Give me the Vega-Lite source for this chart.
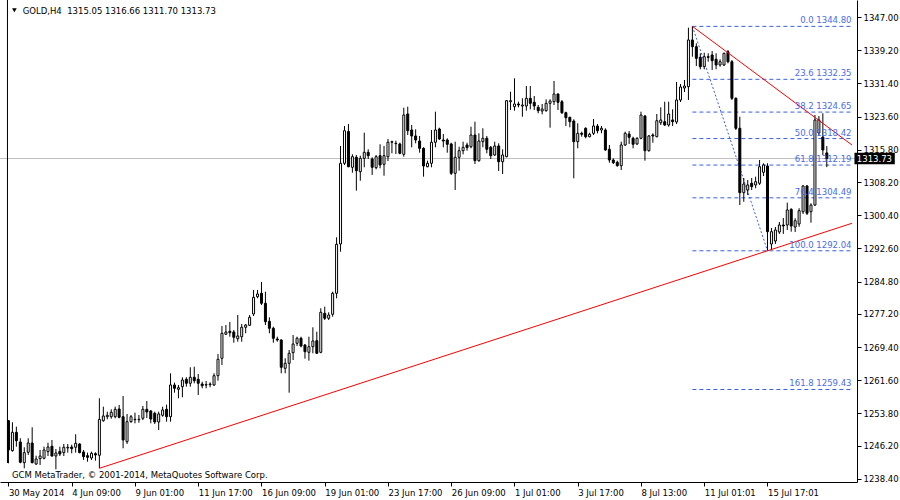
{
"$schema":"https://vega.github.io/schema/vega-lite/v6.json",
"width":857,"height":482,
"autosize":{"type":"none"},
"padding":{"left":0,"top":0,"right":43,"bottom":18},
"background":"white",
"datasets":{
"candles":[
{"i":0,"o":1252.09,"h":1252.25,"l":1242.08,"c":1245.21},
{"i":1,"o":1245.05,"h":1251.72,"l":1244.81,"c":1249.36},
{"i":2,"o":1249.36,"h":1250.68,"l":1245.98,"c":1247.39},
{"i":3,"o":1247.09,"h":1247.96,"l":1242.08,"c":1242.32},
{"i":4,"o":1242.22,"h":1245.84,"l":1240.90,"c":1244.58},
{"i":5,"o":1244.67,"h":1247.96,"l":1244.03,"c":1246.85},
{"i":6,"o":1246.85,"h":1250.54,"l":1242.08,"c":1242.22},
{"i":7,"o":1241.91,"h":1243.87,"l":1241.68,"c":1243.09},
{"i":8,"o":1243.16,"h":1245.21,"l":1241.68,"c":1243.79},
{"i":9,"o":1243.25,"h":1245.98,"l":1243.02,"c":1245.21},
{"i":10,"o":1244.81,"h":1246.92,"l":1243.79,"c":1245.91},
{"i":11,"o":1246.08,"h":1247.56,"l":1243.63,"c":1243.79},
{"i":12,"o":1243.79,"h":1245.44,"l":1240.66,"c":1244.50},
{"i":13,"o":1244.90,"h":1245.98,"l":1243.79,"c":1244.26},
{"i":14,"o":1244.58,"h":1246.62,"l":1243.79,"c":1245.84},
{"i":15,"o":1245.68,"h":1246.62,"l":1244.58,"c":1245.84},
{"i":16,"o":1245.91,"h":1246.45,"l":1244.43,"c":1245.51},
{"i":17,"o":1245.84,"h":1248.90,"l":1244.58,"c":1246.78},
{"i":18,"o":1246.62,"h":1246.78,"l":1244.43,"c":1244.58},
{"i":19,"o":1244.74,"h":1245.21,"l":1242.86,"c":1243.63},
{"i":20,"o":1243.87,"h":1244.58,"l":1242.46,"c":1243.49},
{"i":21,"o":1243.33,"h":1244.81,"l":1242.86,"c":1244.43},
{"i":22,"o":1244.34,"h":1244.67,"l":1242.69,"c":1244.03},
{"i":23,"o":1243.96,"h":1257.36,"l":1240.90,"c":1252.41},
{"i":24,"o":1252.09,"h":1255.39,"l":1251.86,"c":1253.20},
{"i":25,"o":1253.03,"h":1254.21,"l":1252.42,"c":1253.36},
{"i":26,"o":1253.03,"h":1254.77,"l":1252.56,"c":1254.07},
{"i":27,"o":1253.03,"h":1255.39,"l":1252.66,"c":1254.77},
{"i":28,"o":1254.84,"h":1255.79,"l":1252.66,"c":1252.89},
{"i":29,"o":1253.03,"h":1257.90,"l":1245.61,"c":1247.56},
{"i":30,"o":1247.16,"h":1253.67,"l":1246.62,"c":1251.86},
{"i":31,"o":1251.86,"h":1253.43,"l":1251.62,"c":1253.03},
{"i":32,"o":1252.42,"h":1253.98,"l":1251.48,"c":1252.33},
{"i":33,"o":1252.33,"h":1253.43,"l":1251.62,"c":1252.42},
{"i":34,"o":1252.66,"h":1255.55,"l":1252.26,"c":1254.77},
{"i":35,"o":1254.77,"h":1256.73,"l":1252.73,"c":1254.14},
{"i":36,"o":1254.37,"h":1254.61,"l":1251.48,"c":1252.49},
{"i":37,"o":1253.83,"h":1254.21,"l":1251.32,"c":1251.79},
{"i":38,"o":1251.79,"h":1254.21,"l":1249.91,"c":1253.67},
{"i":39,"o":1253.36,"h":1255.39,"l":1253.03,"c":1254.61},
{"i":40,"o":1254.77,"h":1255.86,"l":1251.86,"c":1253.03},
{"i":41,"o":1253.03,"h":1263.24,"l":1251.86,"c":1260.49},
{"i":42,"o":1260.49,"h":1261.03,"l":1258.68,"c":1259.71},
{"i":43,"o":1259.48,"h":1260.49,"l":1257.36,"c":1259.85},
{"i":44,"o":1260.09,"h":1262.30,"l":1257.60,"c":1261.66},
{"i":45,"o":1261.83,"h":1262.30,"l":1260.09,"c":1260.89},
{"i":46,"o":1260.89,"h":1264.65,"l":1260.09,"c":1262.30},
{"i":47,"o":1262.30,"h":1264.79,"l":1260.89,"c":1261.50},
{"i":48,"o":1261.83,"h":1263.07,"l":1258.14,"c":1260.89},
{"i":49,"o":1260.72,"h":1261.26,"l":1259.71,"c":1260.32},
{"i":50,"o":1260.56,"h":1261.43,"l":1259.71,"c":1260.49},
{"i":51,"o":1260.56,"h":1261.12,"l":1259.95,"c":1260.72},
{"i":52,"o":1260.49,"h":1263.24,"l":1260.25,"c":1262.67},
{"i":53,"o":1262.67,"h":1267.78,"l":1261.50,"c":1266.53},
{"i":54,"o":1266.76,"h":1274.36,"l":1265.19,"c":1272.64},
{"i":55,"o":1272.41,"h":1274.59,"l":1272.24,"c":1272.95},
{"i":56,"o":1273.11,"h":1275.30,"l":1271.84,"c":1272.78},
{"i":57,"o":1272.95,"h":1273.42,"l":1270.43,"c":1271.70},
{"i":58,"o":1271.37,"h":1276.94,"l":1270.67,"c":1272.01},
{"i":59,"o":1271.84,"h":1274.83,"l":1270.67,"c":1274.05},
{"i":60,"o":1274.05,"h":1274.83,"l":1272.64,"c":1274.59},
{"i":61,"o":1274.52,"h":1276.94,"l":1274.36,"c":1276.40},
{"i":62,"o":1277.18,"h":1282.82,"l":1276.71,"c":1281.10},
{"i":63,"o":1281.25,"h":1282.82,"l":1280.87,"c":1281.88},
{"i":64,"o":1282.05,"h":1284.70,"l":1279.30,"c":1279.70},
{"i":65,"o":1279.70,"h":1282.42,"l":1274.59,"c":1275.37},
{"i":66,"o":1275.46,"h":1276.40,"l":1272.64,"c":1273.82},
{"i":67,"o":1273.82,"h":1274.19,"l":1270.43,"c":1271.47},
{"i":68,"o":1271.30,"h":1271.84,"l":1270.67,"c":1271.07},
{"i":69,"o":1271.07,"h":1271.23,"l":1263.24,"c":1264.65},
{"i":70,"o":1264.41,"h":1266.76,"l":1263.24,"c":1265.59},
{"i":71,"o":1265.59,"h":1268.72,"l":1258.68,"c":1267.94},
{"i":72,"o":1268.08,"h":1272.24,"l":1266.36,"c":1270.13},
{"i":73,"o":1270.29,"h":1271.84,"l":1269.66,"c":1271.47},
{"i":74,"o":1271.47,"h":1271.84,"l":1269.35,"c":1269.66},
{"i":75,"o":1269.89,"h":1270.13,"l":1266.67,"c":1268.32},
{"i":76,"o":1268.17,"h":1271.84,"l":1266.20,"c":1269.49},
{"i":77,"o":1269.49,"h":1274.05,"l":1267.94,"c":1270.83},
{"i":78,"o":1270.90,"h":1273.02,"l":1267.78,"c":1267.94},
{"i":79,"o":1268.17,"h":1278.52,"l":1267.94,"c":1277.58},
{"i":80,"o":1277.34,"h":1278.90,"l":1275.77,"c":1276.17},
{"i":81,"o":1276.17,"h":1277.58,"l":1275.77,"c":1276.94},
{"i":82,"o":1277.11,"h":1282.42,"l":1276.54,"c":1282.05},
{"i":83,"o":1282.05,"h":1295.21,"l":1280.87,"c":1293.57},
{"i":84,"o":1293.64,"h":1316.68,"l":1291.83,"c":1312.61},
{"i":85,"o":1312.61,"h":1321.38,"l":1312.21,"c":1320.27},
{"i":86,"o":1320.10,"h":1321.85,"l":1311.67,"c":1311.81},
{"i":87,"o":1311.67,"h":1314.72,"l":1310.40,"c":1314.16},
{"i":88,"o":1314.02,"h":1314.56,"l":1306.17,"c":1310.87},
{"i":89,"o":1310.63,"h":1314.40,"l":1308.52,"c":1313.78},
{"i":90,"o":1313.78,"h":1319.80,"l":1311.67,"c":1315.19},
{"i":91,"o":1315.19,"h":1315.90,"l":1313.62,"c":1314.40},
{"i":92,"o":1313.62,"h":1314.02,"l":1309.86,"c":1311.67},
{"i":93,"o":1311.57,"h":1314.56,"l":1311.20,"c":1314.16},
{"i":94,"o":1314.40,"h":1317.08,"l":1311.43,"c":1312.21},
{"i":95,"o":1312.37,"h":1316.68,"l":1309.69,"c":1314.40},
{"i":96,"o":1314.16,"h":1318.32,"l":1313.15,"c":1317.55},
{"i":97,"o":1317.55,"h":1317.92,"l":1314.96,"c":1317.69},
{"i":98,"o":1317.31,"h":1317.92,"l":1314.79,"c":1317.22},
{"i":99,"o":1317.15,"h":1317.45,"l":1314.72,"c":1314.96},
{"i":100,"o":1314.72,"h":1325.68,"l":1314.16,"c":1323.96},
{"i":101,"o":1324.20,"h":1325.91,"l":1319.26,"c":1320.27},
{"i":102,"o":1320.44,"h":1321.61,"l":1316.37,"c":1319.03},
{"i":103,"o":1319.03,"h":1320.60,"l":1317.31,"c":1318.09},
{"i":104,"o":1317.85,"h":1319.03,"l":1315.10,"c":1316.13},
{"i":105,"o":1316.13,"h":1316.37,"l":1309.46,"c":1311.97},
{"i":106,"o":1311.81,"h":1313.22,"l":1311.67,"c":1312.61},
{"i":107,"o":1312.61,"h":1320.44,"l":1311.67,"c":1317.55},
{"i":108,"o":1317.55,"h":1324.74,"l":1316.37,"c":1320.44},
{"i":109,"o":1320.67,"h":1320.98,"l":1318.09,"c":1318.32},
{"i":110,"o":1318.09,"h":1319.50,"l":1316.37,"c":1317.85},
{"i":111,"o":1318.09,"h":1318.49,"l":1315.10,"c":1317.08},
{"i":112,"o":1317.15,"h":1317.45,"l":1309.86,"c":1310.26},
{"i":113,"o":1310.26,"h":1317.69,"l":1306.33,"c":1314.02},
{"i":114,"o":1314.02,"h":1316.51,"l":1310.87,"c":1315.57},
{"i":115,"o":1315.57,"h":1317.69,"l":1314.72,"c":1316.37},
{"i":116,"o":1316.91,"h":1317.45,"l":1315.57,"c":1316.28},
{"i":117,"o":1316.51,"h":1321.21,"l":1316.13,"c":1319.26},
{"i":118,"o":1319.26,"h":1322.39,"l":1312.44,"c":1313.22},
{"i":119,"o":1313.22,"h":1319.66,"l":1312.98,"c":1317.85},
{"i":120,"o":1317.69,"h":1320.84,"l":1316.37,"c":1318.49},
{"i":121,"o":1318.49,"h":1319.03,"l":1314.96,"c":1315.90},
{"i":122,"o":1316.37,"h":1316.68,"l":1313.62,"c":1314.40},
{"i":123,"o":1314.56,"h":1317.69,"l":1314.33,"c":1316.68},
{"i":124,"o":1316.68,"h":1317.31,"l":1310.80,"c":1312.98},
{"i":125,"o":1312.98,"h":1315.90,"l":1310.09,"c":1314.56},
{"i":126,"o":1314.16,"h":1327.49,"l":1314.02,"c":1327.33},
{"i":127,"o":1327.09,"h":1329.44,"l":1325.14,"c":1327.33},
{"i":128,"o":1325.92,"h":1332.59,"l":1324.98,"c":1326.55},
{"i":129,"o":1326.55,"h":1327.09,"l":1325.77,"c":1326.31},
{"i":130,"o":1326.08,"h":1327.89,"l":1323.56,"c":1326.31},
{"i":131,"o":1326.08,"h":1330.78,"l":1324.98,"c":1327.89},
{"i":132,"o":1327.89,"h":1330.78,"l":1325.30,"c":1326.71},
{"i":133,"o":1326.95,"h":1328.43,"l":1325.14,"c":1326.08},
{"i":134,"o":1325.77,"h":1326.31,"l":1324.36,"c":1324.98},
{"i":135,"o":1324.90,"h":1326.55,"l":1324.13,"c":1325.37},
{"i":136,"o":1324.98,"h":1327.65,"l":1324.74,"c":1326.71},
{"i":137,"o":1326.71,"h":1327.65,"l":1320.98,"c":1327.26},
{"i":138,"o":1327.09,"h":1331.96,"l":1326.31,"c":1328.90},
{"i":139,"o":1328.90,"h":1329.07,"l":1325.14,"c":1326.95},
{"i":140,"o":1327.09,"h":1327.49,"l":1324.20,"c":1324.50},
{"i":141,"o":1324.50,"h":1324.74,"l":1321.38,"c":1323.33},
{"i":142,"o":1323.42,"h":1323.56,"l":1321.07,"c":1322.39},
{"i":143,"o":1322.55,"h":1322.95,"l":1309.08,"c":1317.69},
{"i":144,"o":1317.69,"h":1322.01,"l":1316.13,"c":1319.66},
{"i":145,"o":1319.66,"h":1320.04,"l":1318.86,"c":1319.43},
{"i":146,"o":1320.84,"h":1321.07,"l":1318.49,"c":1318.86},
{"i":147,"o":1318.86,"h":1319.80,"l":1318.72,"c":1319.43},
{"i":148,"o":1319.66,"h":1323.02,"l":1319.26,"c":1321.38},
{"i":149,"o":1321.38,"h":1321.85,"l":1319.66,"c":1320.27},
{"i":150,"o":1320.44,"h":1321.38,"l":1319.66,"c":1320.84},
{"i":151,"o":1320.44,"h":1320.84,"l":1315.57,"c":1315.74},
{"i":152,"o":1315.90,"h":1316.91,"l":1312.75,"c":1313.38},
{"i":153,"o":1313.38,"h":1313.78,"l":1312.44,"c":1312.75},
{"i":154,"o":1312.84,"h":1313.22,"l":1311.81,"c":1312.04},
{"i":155,"o":1312.04,"h":1317.69,"l":1311.03,"c":1316.91},
{"i":156,"o":1316.91,"h":1320.04,"l":1316.68,"c":1319.66},
{"i":157,"o":1319.50,"h":1320.20,"l":1317.15,"c":1318.72},
{"i":158,"o":1318.49,"h":1318.86,"l":1316.13,"c":1317.08},
{"i":159,"o":1317.15,"h":1318.72,"l":1316.91,"c":1318.49},
{"i":160,"o":1318.49,"h":1324.74,"l":1318.25,"c":1323.96},
{"i":161,"o":1323.73,"h":1323.96,"l":1313.22,"c":1315.57},
{"i":162,"o":1315.57,"h":1319.26,"l":1315.34,"c":1319.03},
{"i":163,"o":1319.26,"h":1319.66,"l":1317.45,"c":1319.03},
{"i":164,"o":1318.86,"h":1324.20,"l":1318.72,"c":1322.62},
{"i":165,"o":1322.15,"h":1325.77,"l":1321.61,"c":1322.79},
{"i":166,"o":1322.39,"h":1327.09,"l":1321.38,"c":1321.61},
{"i":167,"o":1321.61,"h":1327.09,"l":1321.21,"c":1324.20},
{"i":168,"o":1322.79,"h":1325.30,"l":1321.38,"c":1322.39},
{"i":169,"o":1322.32,"h":1331.72,"l":1321.85,"c":1327.49},
{"i":170,"o":1327.49,"h":1331.25,"l":1327.02,"c":1330.55},
{"i":171,"o":1330.31,"h":1332.19,"l":1329.37,"c":1330.78},
{"i":172,"o":1330.62,"h":1344.49,"l":1327.49,"c":1341.60},
{"i":173,"o":1341.60,"h":1344.80,"l":1337.67,"c":1340.02},
{"i":174,"o":1340.02,"h":1340.82,"l":1335.48,"c":1337.29},
{"i":175,"o":1337.53,"h":1338.47,"l":1334.71,"c":1335.32},
{"i":176,"o":1335.32,"h":1338.61,"l":1334.71,"c":1337.67},
{"i":177,"o":1337.67,"h":1338.47,"l":1336.49,"c":1337.53},
{"i":178,"o":1338.07,"h":1339.01,"l":1334.54,"c":1336.73},
{"i":179,"o":1337.06,"h":1338.47,"l":1334.71,"c":1335.72},
{"i":180,"o":1335.72,"h":1337.06,"l":1335.32,"c":1336.49},
{"i":181,"o":1335.72,"h":1338.61,"l":1335.48,"c":1338.47},
{"i":182,"o":1338.85,"h":1339.25,"l":1336.12,"c":1336.49},
{"i":183,"o":1336.49,"h":1336.89,"l":1327.49,"c":1327.89},
{"i":184,"o":1327.89,"h":1328.12,"l":1320.44,"c":1320.84},
{"i":185,"o":1320.84,"h":1323.56,"l":1302.80,"c":1305.70},
{"i":186,"o":1305.70,"h":1309.15,"l":1303.58,"c":1307.74},
{"i":187,"o":1306.33,"h":1308.68,"l":1305.16,"c":1307.51},
{"i":188,"o":1307.91,"h":1309.15,"l":1306.33,"c":1307.11},
{"i":189,"o":1307.51,"h":1309.46,"l":1306.73,"c":1308.28},
{"i":190,"o":1307.91,"h":1313.38,"l":1307.51,"c":1311.81},
{"i":191,"o":1310.50,"h":1312.61,"l":1309.62,"c":1312.21},
{"i":192,"o":1311.97,"h":1312.61,"l":1292.04,"c":1296.53},
{"i":193,"o":1293.64,"h":1297.40,"l":1292.23,"c":1296.53},
{"i":194,"o":1294.34,"h":1297.63,"l":1293.64,"c":1296.93},
{"i":195,"o":1296.46,"h":1298.81,"l":1296.01,"c":1298.10},
{"i":196,"o":1298.10,"h":1299.75,"l":1296.01,"c":1297.87},
{"i":197,"o":1298.10,"h":1303.35,"l":1296.93,"c":1301.63},
{"i":198,"o":1301.79,"h":1302.03,"l":1296.53,"c":1297.87},
{"i":199,"o":1297.63,"h":1299.68,"l":1296.46,"c":1299.11},
{"i":200,"o":1298.34,"h":1302.03,"l":1297.70,"c":1301.47},
{"i":201,"o":1301.23,"h":1307.51,"l":1300.69,"c":1307.27},
{"i":202,"o":1307.27,"h":1307.51,"l":1300.45,"c":1300.85},
{"i":203,"o":1301.23,"h":1303.20,"l":1298.64,"c":1302.80},
{"i":204,"o":1302.80,"h":1323.96,"l":1302.57,"c":1322.79},
{"i":205,"o":1319.73,"h":1323.73,"l":1319.03,"c":1322.79},
{"i":206,"o":1318.79,"h":1324.36,"l":1314.56,"c":1315.74},
{"i":207,"o":1315.05,"h":1316.66,"l":1311.70,"c":1313.73}
],
"fib":[
{"t":"0.0 1344.80","p":1344.80},
{"t":"23.6 1332.35","p":1332.35},
{"t":"38.2 1324.65","p":1324.65},
{"t":"50.0 1318.42","p":1318.42},
{"t":"61.8 1312.19","p":1312.19},
{"t":"76.4 1304.49","p":1304.49},
{"t":"100.0 1292.04","p":1292.04},
{"t":"161.8 1259.43","p":1259.43}
],
"trend":[
{"g":"up","i":173,"p":1344.80},
{"g":"up","i":213.375,"p":1316.9},
{"g":"low","i":23,"p":1240.90},
{"g":"low","i":213.375,"p":1298.51}
],
"base":[
{"i":173,"p":1344.80},
{"i":192,"p":1292.04}
],
"one":[{"k":1}]
},
"layer":[
{"data":{"name":"one"},
 "mark":{"type":"rule","color":"#C0C0C0","strokeWidth":1},
 "encoding":{"y":{"datum":1313.73,"scale":{"domain":[1237.68,1351.0],"nice":false,"zero":false},
   "axis":{"orient":"right","values":[1238.4,1246.2,1253.8,1261.6,1269.4,1277.2,1284.8,1292.6,1300.4,1308.2,1315.8,1323.6,1331.4,1339.2,1347.0],"tickCount":30,"format":".2f","labelPadding":2,"tickSize":4,"labelFlush":false,"labelOverlap":false,"labelBound":false,"title":null}}}},
{"data":{"name":"fib"},
 "mark":{"type":"rule","color":"#3A5FE5","strokeWidth":1,"strokeDash":[4,3]},
 "encoding":{
   "x":{"datum":173,"scale":{"domain":[-0.875,213.375],"nice":false,"zero":false},
     "axis":{"values":[0,16,32,48,64,80,96,112,128,144,160,176,192],"tickCount":30,
       "labelExpr":"['30 May 2014','4 Jun 09:00','9 Jun 01:00','11 Jun 17:00','16 Jun 09:00','19 Jun 01:00','23 Jun 17:00','26 Jun 09:00','1 Jul 01:00','3 Jul 17:00','8 Jul 13:00','11 Jul 01:01','15 Jul 17:01'][round(datum.value/16)]",
       "labelAlign":"left","labelBaseline":"top","labelPadding":2,"tickSize":4,"labelFlush":false,"labelOverlap":false,"labelBound":false,"title":null}},
   "x2":{"datum":213.375},
   "y":{"field":"p","type":"quantitative","title":null}}},
{"data":{"name":"base"},
 "mark":{"type":"line","color":"#3A5FE5","strokeWidth":1,"strokeDash":[2,2]},
 "encoding":{"x":{"field":"i","type":"quantitative","title":null},"y":{"field":"p","type":"quantitative","title":null}}},
{"data":{"name":"candles"},
 "mark":{"type":"rule","color":"black","strokeWidth":1},
 "encoding":{"x":{"field":"i","type":"quantitative","title":null},"y":{"field":"l","type":"quantitative","title":null},"y2":{"field":"h"}}},
{"data":{"name":"candles"},
 "mark":{"type":"bar","size":2,"stroke":"black","strokeWidth":1},
 "encoding":{"x":{"field":"i","type":"quantitative","title":null},"y":{"field":"o","type":"quantitative","title":null},"y2":{"field":"c"},
   "fill":{"condition":{"test":"datum.c >= datum.o","value":"white"},"value":"black"}}},
{"data":{"name":"trend"},
 "mark":{"type":"line","color":"#FF0000","strokeWidth":1},
 "encoding":{"x":{"field":"i","type":"quantitative","title":null},"y":{"field":"p","type":"quantitative","title":null},"detail":{"field":"g"}}},
{"data":{"name":"one"},
 "mark":{"type":"rule","color":"black","strokeWidth":1},
 "encoding":{"x":{"datum":-0.25},"y":{"datum":1351.0},"y2":{"datum":1242.15}}},
{"data":{"name":"fib"},
 "mark":{"type":"text","align":"right","baseline":"alphabetic","dy":-3,"color":"#4A6CEB","font":"DejaVu Sans","fontSize":8.5},
 "encoding":{"x":{"datum":213.25},"y":{"field":"p","type":"quantitative","title":null},"text":{"field":"t"}}},
{"data":{"name":"one"},
 "mark":{"type":"point","shape":"triangle-down","filled":true,"color":"black","size":22,"opacity":1},
 "encoding":{"x":{"datum":1.5},"y":{"datum":1348.6}}},
{"data":{"name":"one"},
 "mark":{"type":"text","align":"left","baseline":"middle","color":"black","font":"DejaVu Sans","fontSize":8.5,"text":"GOLD,H4\u00a0 1315.05 1316.66 1311.70 1313.73"},
 "encoding":{"x":{"datum":3.6},"y":{"datum":1348.41}}},
{"data":{"name":"one"},
 "mark":{"type":"text","align":"left","baseline":"middle","color":"black","font":"DejaVu Sans","fontSize":8.5,"text":"GCM MetaTrader, © 2001-2014, MetaQuotes Software Corp."},
 "encoding":{"x":{"datum":0.875},"y":{"datum":1239.33}}},
{"data":{"name":"one"},
 "mark":{"type":"rect","color":"black","clip":false},
 "encoding":{"x":{"datum":214.0},"x2":{"datum":224.2},"y":{"datum":1315.1},"y2":{"datum":1312.36}}},
{"data":{"name":"one"},
 "mark":{"type":"text","align":"left","baseline":"middle","color":"white","font":"DejaVu Sans","fontSize":8.5,"text":"1313.73","clip":false},
 "encoding":{"x":{"datum":214.6},"y":{"datum":1313.73}}}
],
"config":{
 "view":{"stroke":null},
 "font":"DejaVu Sans",
 "axis":{"labelFont":"DejaVu Sans","labelFontSize":8.5,"labelColor":"#000000","domainColor":"#000000","tickColor":"#000000","grid":false,"domainWidth":1,"tickWidth":1,"labelOverlap":false},
 "axisY":{"labelOverlap":false,"labelFlush":false}
}
}
